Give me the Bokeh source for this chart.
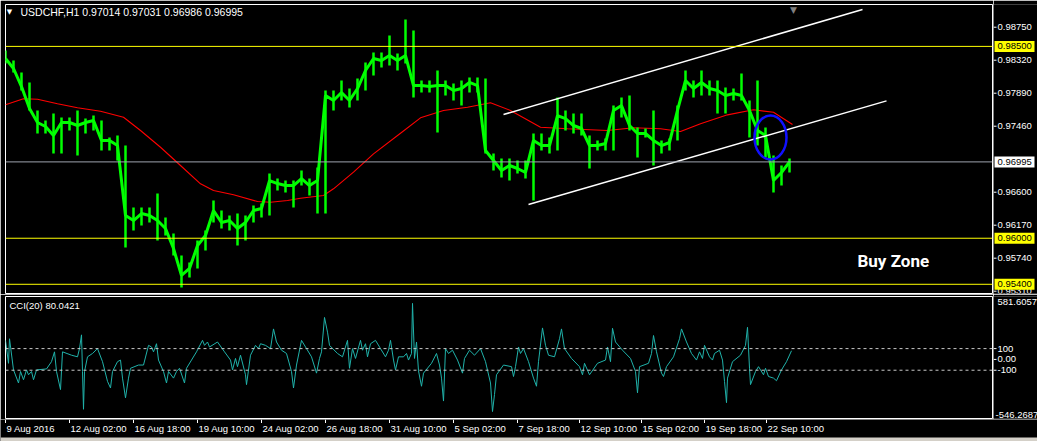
from bokeh.plotting import figure
from bokeh.layouts import column, row
from bokeh.models import Span, Label, Range1d
from bokeh.core.properties import value
from bokeh.embed import file_html
from bokeh.resources import INLINE

# ---------------- data ----------------
price_bar = list(range(0, 785, 8))  # H1 bar index
price_high = [0.98446,0.98316,0.98160,0.98030,0.97665,0.97534,0.97626,0.97573,0.97573,0.97665,
0.97560,0.97599,0.97534,0.97313,0.97339,0.97208,0.96401,0.96401,0.96401,0.96583,
0.96270,0.96062,0.95775,0.95684,0.95971,0.96101,0.96492,0.96362,0.96296,0.96322,
0.96296,0.96427,0.96453,0.96844,0.96778,0.96752,0.96752,0.96883,0.96778,0.96922,
0.97925,0.97925,0.98056,0.97951,0.98082,0.98290,0.98420,0.98420,0.98642,0.98407,
0.98850,0.98707,0.98056,0.98056,0.98186,0.98056,0.98016,0.98056,0.98095,0.98095,
0.98082,0.97104,0.97039,0.97039,0.97013,0.97013,0.97365,0.97365,0.97313,0.97834,
0.97665,0.97626,0.97626,0.97339,0.97274,0.97300,0.97730,0.97834,0.97860,0.97443,
0.97430,0.97665,0.97274,0.97300,0.97730,0.98186,0.98056,0.98186,0.98056,0.98056,
0.97964,0.97951,0.98147,0.97795,0.98056,0.97443,0.97078,0.96948,0.97039]
price_low = [0.98277,0.98160,0.97925,0.97665,0.97365,0.97365,0.97104,0.97104,0.97404,0.97078,
0.97365,0.97404,0.97143,0.97143,0.97013,0.95879,0.96101,0.96166,0.96205,0.95971,
0.96036,0.95775,0.95358,0.95489,0.95606,0.95840,0.96205,0.96127,0.96101,0.95905,
0.95971,0.96205,0.96270,0.96296,0.96622,0.96596,0.96401,0.96687,0.96557,0.96322,
0.96322,0.97665,0.97795,0.97704,0.97795,0.97925,0.98121,0.98225,0.98251,0.98186,
0.98277,0.97834,0.97899,0.97899,0.97378,0.97860,0.97795,0.97730,0.97899,0.97899,
0.97104,0.96883,0.96791,0.96752,0.96844,0.96778,0.96492,0.97143,0.97104,0.97143,
0.97404,0.97365,0.97339,0.96909,0.97143,0.97143,0.97143,0.97573,0.97404,0.97052,
0.97313,0.96948,0.97104,0.97143,0.97274,0.97925,0.97834,0.97860,0.97860,0.97626,
0.97626,0.97795,0.97795,0.97313,0.97208,0.97052,0.96596,0.96687,0.96857]
price_close = [0.98342,0.98212,0.97977,0.97691,0.97508,0.97456,0.97339,0.97508,0.97508,0.97469,
0.97508,0.97534,0.97274,0.97274,0.97208,0.96296,0.96231,0.96322,0.96296,0.96231,
0.96127,0.95866,0.95515,0.95606,0.95905,0.96036,0.96362,0.96205,0.96231,0.96127,
0.96205,0.96362,0.96388,0.96752,0.96713,0.96687,0.96687,0.96778,0.96687,0.96752,
0.97860,0.97795,0.97899,0.97795,0.97951,0.98186,0.98342,0.98316,0.98381,0.98316,
0.98381,0.97990,0.97990,0.97977,0.97990,0.97990,0.97925,0.97951,0.98030,0.97990,
0.97143,0.97013,0.96883,0.96948,0.96909,0.96857,0.97274,0.97208,0.97208,0.97599,
0.97560,0.97469,0.97430,0.97208,0.97208,0.97235,0.97665,0.97730,0.97469,0.97365,
0.97365,0.97274,0.97208,0.97248,0.97665,0.98056,0.97951,0.98030,0.97951,0.97925,
0.97860,0.97886,0.97860,0.97665,0.97404,0.97339,0.96752,0.96857,0.96995]

ma_bar = [0,18,32,52,72,95,118,135,155,175,195,208,228,252,265,282,295,318,328,348,
          368,395,415,438,462,485,505,535,562,602,628,655,675,695,722,748,768,787]
ma_val = [0.97739,0.97817,0.97812,0.97752,0.97700,0.97655,0.97577,0.97404,0.97186,0.96948,
          0.96709,0.96622,0.96566,0.96479,0.96470,0.96492,0.96522,0.96557,0.96644,0.96861,
          0.97100,0.97369,0.97569,0.97665,0.97708,0.97765,0.97665,0.97447,0.97426,0.97404,
          0.97439,0.97426,0.97391,0.97491,0.97608,0.97674,0.97642,0.97482]

channel_upper_bar = [498, 857]
channel_upper_val = [0.97612, 0.98981]
channel_lower_bar = [523, 881]
channel_lower_val = [0.96440, 0.97790]

circle_bar, circle_val, circle_w, circle_h = 765, 0.97313, 32, 0.00573

levels = [0.98500, 0.96000, 0.95400]
current_price = 0.96995
price_ticks = [0.98750, 0.98320, 0.97890, 0.97460, 0.96600, 0.96170, 0.95740, 0.95310]
price_min, price_max = 0.95280, 0.99046

cci_bar = [0,3,4,8,13,15,18,21,23,26,28,31,41,46,49,51,55,57,66,72,74,76,77,78,79,82,87,92,97,102,
105,107,112,115,117,120,123,125,133,138,143,146,148,151,153,158,161,163,168,171,174,179,181,186,191,
197,199,202,204,212,219,225,227,230,232,235,240,241,245,250,253,255,260,265,268,271,276,281,286,288,
291,296,301,306,311,314,316,319,322,324,332,337,342,344,347,350,355,357,360,362,365,370,375,380,383,
385,388,390,393,398,401,403,406,407,409,411,413,416,418,426,431,434,436,438,440,443,447,452,457,459,
464,469,475,480,485,487,489,491,498,506,508,510,513,515,518,523,528,531,533,537,540,543,549,554,556,
559,566,574,577,579,584,592,600,602,605,607,610,617,625,630,632,634,643,646,648,651,656,658,661,668,
674,676,681,686,691,694,697,699,704,707,709,714,717,719,721,722,727,735,740,742,744,745,750,753,758,
760,763,768,771,776,781,786]
cci_val = [176,-36,191,-97,-218,-112,-188,-97,-142,-112,-188,-97,-88,-21,70,-112,-279,70,39,24,
100,227,-112,-461,-112,24,55,100,-21,-203,-264,-112,-21,-6,-173,-355,-173,-82,-52,-52,
130,115,70,145,-6,-112,-218,-112,-173,-112,-82,-218,-82,-6,70,176,130,161,115,161,
70,-6,-97,9,-67,39,-142,-233,39,130,100,145,130,100,282,161,85,55,-112,-264,
-52,176,100,24,-127,9,70,388,252,130,55,24,176,-82,100,9,176,85,145,24,
145,176,100,24,85,176,-6,-97,24,24,55,-6,55,518,9,161,-106,-248,-127,-36,
55,-52,-173,-385,100,55,85,-6,-127,9,85,39,100,-21,-218,-482,-324,-142,-52,-67,
-158,-67,115,55,100,-21,-173,-248,-21,291,130,39,24,191,282,100,9,-67,-142,-36,
-142,-36,-6,115,-21,288,161,85,9,-112,-309,-67,-36,55,221,70,-127,-158,-67,24,
191,282,161,55,-6,70,9,130,24,-6,55,85,-6,-203,-400,-173,-21,39,130,297,
-82,-233,-112,-67,-142,-82,-158,-173,-197,-97,-21,80]
cci_min, cci_max = -546.2687, 581.6057
cci_levels = [100, -100]
cci_ticks = [100, 0, -100]
cci_tick_labels = ["100", "0.00", "-100"]

time_tick_bar = [0, 64, 128, 192, 256, 320, 384, 448, 512, 574, 636, 699, 761]
time_tick_label = ["9 Aug 2016", "12 Aug 02:00", "16 Aug 18:00", "19 Aug 10:00", "24 Aug 02:00",
                   "26 Aug 18:00", "31 Aug 10:00", "5 Sep 02:00", "7 Sep 18:00", "12 Sep 10:00",
                   "15 Sep 02:00", "19 Sep 18:00", "22 Sep 10:00"]

FONT = "Liberation Sans"
FS = "9.5px"
GREEN = "#00ff00"
BG = "black"


def base_fig(**kw):
    f = figure(output_backend="svg", toolbar_location=None, x_axis_location=None,
               y_axis_location=None, background_fill_color=BG, border_fill_color=BG, **kw)
    f.grid.visible = False
    return f


# ---------------- price panel ----------------
x_range = Range1d(0, 987)
p = base_fig(width=993, height=294, x_range=x_range, y_range=Range1d(price_min, price_max),
             min_border_left=5, min_border_right=1, min_border_top=4, min_border_bottom=1,
             outline_line_color="white")

for lv in levels:
    p.add_layout(Span(location=lv, dimension="width", line_color="#ffff00", line_width=1))
p.add_layout(Span(location=current_price, dimension="width", line_color="#9ea4ae", line_width=1))

p.line(ma_bar, ma_val, line_color="#ff0000", line_width=1.1)
p.segment(x0=price_bar, y0=price_low, x1=price_bar, y1=price_high, line_color=GREEN, line_width=2.5)
p.line(price_bar, price_close, line_color=GREEN, line_width=3)

p.line(channel_upper_bar, channel_upper_val, line_color="white", line_width=1.5)
p.line(channel_lower_bar, channel_lower_val, line_color="white", line_width=1.5)
p.ellipse(x=[circle_bar], y=[circle_val], width=circle_w, height=circle_h,
          fill_alpha=0, line_color="#1010ff", line_width=2.5)

p.add_layout(Label(x=4, y=0.98942, text="\u25BC", text_baseline="middle", text_align="center",
                   text_color="white", text_font="DejaVu Sans", text_font_size="7px"))
p.add_layout(Label(x=15, y=0.98942, text="USDCHF,H1  0.97014 0.97031 0.96986 0.96995",
                   text_baseline="middle", text_color="white", text_font=FONT,
                   text_font_size="10.5px"))
p.add_layout(Label(x=788, y=price_max, text="\u25BC", text_baseline="top", text_align="center",
                   text_color="#7f7f7f", text_font="DejaVu Sans", text_font_size="9px"))
p.add_layout(Label(x=852, y=0.95697, text="Buy Zone", text_baseline="middle", text_color="white",
                   text_font="Roboto", text_font_style="bold", text_font_size="17px"))

# price scale strip (right)
pa = base_fig(width=44, height=294, x_range=Range1d(0, 44), y_range=p.y_range,
              min_border_left=0, min_border_right=0, min_border_top=4, min_border_bottom=1,
              outline_line_color=None)
pa.segment(x0=0, y0=price_ticks, x1=3, y1=price_ticks, line_color="white", line_width=1)
pa.text(x=4, y=price_ticks, text=[f"{v:.5f}" for v in price_ticks], text_baseline="middle",
        text_color="white", text_font=value(FONT), text_font_size=value(FS))
pa.rect(x=21, y=levels, width=40, height=11, height_units="screen", fill_color="#ffff00",
        line_color=None)
pa.text(x=4, y=levels, text=[f"{v:.5f}" for v in levels], text_baseline="middle",
        text_color="black", text_font=value(FONT), text_font_size=value(FS))
pa.rect(x=21, y=[current_price], width=40, height=11, height_units="screen", fill_color="white",
        line_color=None)
pa.text(x=4, y=[current_price], text=[f"{current_price:.5f}"], text_baseline="middle",
        text_color="black", text_font=value(FONT), text_font_size=value(FS))

# ---------------- CCI panel ----------------
p2 = base_fig(width=993, height=125, x_range=x_range, y_range=Range1d(cci_min, cci_max),
              min_border_left=5, min_border_right=1, min_border_top=2, min_border_bottom=1,
              outline_line_color="white")
for lv in cci_levels:
    p2.add_layout(Span(location=lv, dimension="width", line_color="#c8c8c8", line_width=1,
                       line_dash="3 3"))
p2.line(cci_bar, cci_val, line_color="#20b2aa", line_width=1)
p2.add_layout(Label(x=4, y=498, text="CCI(20) 80.0421", text_baseline="middle", text_color="white",
                    text_font=FONT, text_font_size=FS))

pa2 = base_fig(width=44, height=125, x_range=Range1d(0, 44), y_range=p2.y_range,
               min_border_left=0, min_border_right=0, min_border_top=2, min_border_bottom=1,
               outline_line_color=None)
pa2.segment(x0=0, y0=cci_ticks, x1=3, y1=cci_ticks, line_color="white", line_width=1)
pa2.text(x=4, y=cci_ticks, text=cci_tick_labels, text_baseline="middle",
         text_color="white", text_font=value(FONT), text_font_size=value(FS))
pa2.text(x=4, y=[cci_max], text=[f"{cci_max:.4f}"], text_baseline="top", y_offset=2,
         text_color="white", text_font=value(FONT), text_font_size=value(FS))
pa2.text(x=2, y=[cci_min], text=[f"{cci_min:.4f}"], text_baseline="bottom", y_offset=-1,
         text_color="white", text_font=value(FONT), text_font_size=value(FS))

# ---------------- time scale strip (bottom) ----------------
pt = base_fig(width=1037, height=22, x_range=Range1d(-5, 1032), y_range=Range1d(0, 22),
              min_border_left=0, min_border_right=0, min_border_top=0, min_border_bottom=0,
              outline_line_color=None)
pt.segment(x0=time_tick_bar, y0=22, x1=time_tick_bar, y1=18.5, line_color="white", line_width=1)
pt.text(x=time_tick_bar, y=13, text=time_tick_label, text_baseline="middle", text_align="left",
        x_offset=1, text_color="white", text_font=value(FONT), text_font_size=value(FS))
pt.add_layout(Span(location=2, dimension="width", line_color="#d4d0c8", line_width=4))

layout = column(row(p, pa, spacing=0), row(p2, pa2, spacing=0), pt, spacing=0)
open("out.html", "w").write(file_html(layout, INLINE))
